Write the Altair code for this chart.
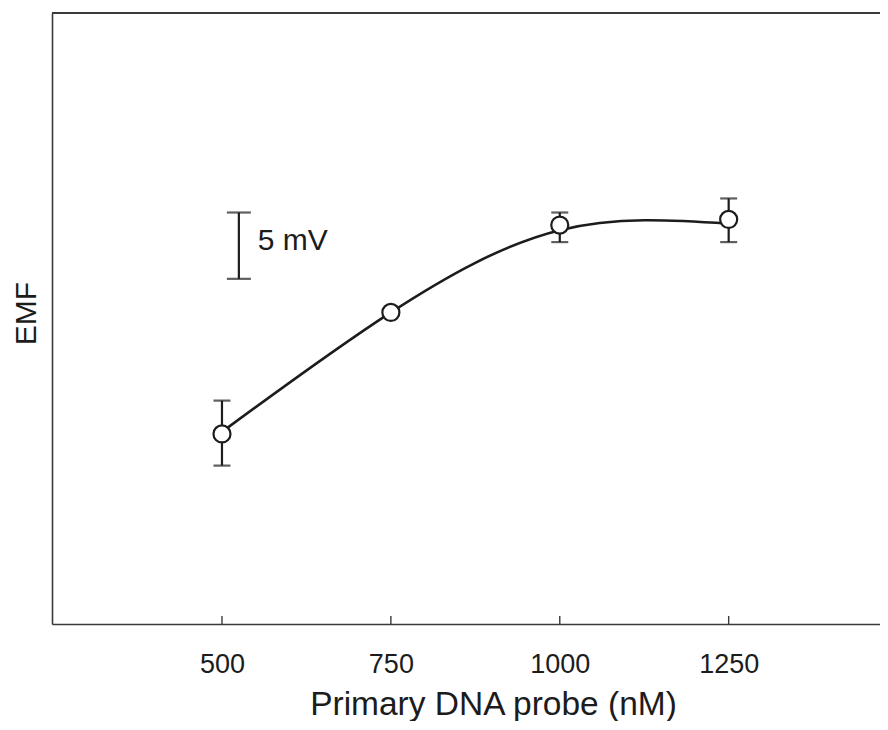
import altair as alt
import pandas as pd

# Measured points (EMF in mV, relative offset; axis shows no numbers)
conc = [500, 750, 1000, 1250]
emf = [14.33, 23.49, 30.07, 30.50]
emf_lo = [11.94, 23.25, 28.79, 28.79]
emf_hi = [16.84, 23.75, 31.02, 32.08]

fit_x = [500, 750, 1000, 1250]
fit_y = [14.48, 23.49, 29.69, 30.18]

# 5 mV scale bar
bar_x = [525]
bar_lo = [26.02]
bar_hi = [31.02]
bar_label = ["5 mV"]
label_x = [553]
label_y = [28.84]

tick_values = [500, 750, 1000, 1250]

W, H = 828, 611
FONT = "Liberation Sans"
INK = "#1c1c1c"
AX = "#3a3a3a"

xscale = alt.Scale(domain=[248.4, 1474], nice=False, zero=False)
yscale = alt.Scale(domain=[0, 46.06], nice=False, zero=False)

X_AXIS = alt.Axis(
    values=tick_values, format="d", ticks=False, tickSize=0, grid=False,
    labelFontSize=27, labelFont=FONT, labelColor=INK, labelPadding=27,
    domainColor=AX, domainWidth=1.6,
    title="Primary DNA probe (nM)", titleFont=FONT, titleFontSize=33.5,
    titleFontWeight="normal", titleColor=INK, titleX=441, titleY=90,
    titleAlign="center", titleBaseline="alphabetic")
Y_AXIS = alt.Axis(
    labels=False, ticks=False, tickSize=0, grid=False,
    domainColor=AX, domainWidth=1.6,
    title="EMF", titleFont=FONT, titleFontSize=30, titleFontWeight="normal",
    titleColor=INK, titleX=-17, titleY=300, titleAngle=270,
    titleAlign="center", titleBaseline="alphabetic")

pts = pd.DataFrame({"conc": conc, "emf": emf, "lo": emf_lo, "hi": emf_hi})
fit = pd.DataFrame({"x": fit_x, "y": fit_y})
bar = pd.DataFrame({"x": bar_x, "lo": bar_lo, "hi": bar_hi})
lab = pd.DataFrame({"x": label_x, "y": label_y, "t": bar_label})
ticks = pd.DataFrame({"v": tick_values})

curve = alt.Chart(fit).mark_line(interpolate="natural", color=INK, strokeWidth=2.6).encode(
    x=alt.X("x:Q", scale=xscale, axis=X_AXIS),
    y=alt.Y("y:Q", scale=yscale, axis=Y_AXIS),
)

errs = alt.Chart(pts).mark_errorbar(
    ticks={"size": 17, "thickness": 2.2, "color": INK}, thickness=2.2, color=INK
).encode(
    x=alt.X("conc:Q", scale=xscale, axis=X_AXIS),
    y=alt.Y("lo:Q", scale=yscale, axis=Y_AXIS),
    y2="hi:Q",
)

circles = alt.Chart(pts).mark_point(
    shape="circle", filled=False, fill="white", fillOpacity=1, stroke=INK,
    strokeWidth=2.2, size=290, opacity=1
).encode(
    x=alt.X("conc:Q", scale=xscale, axis=X_AXIS),
    y=alt.Y("emf:Q", scale=yscale, axis=Y_AXIS),
)

scalebar = alt.Chart(bar).mark_errorbar(
    ticks={"size": 24, "thickness": 2.2, "color": INK}, thickness=2.2, color=INK
).encode(
    x=alt.X("x:Q", scale=xscale, axis=X_AXIS),
    y=alt.Y("lo:Q", scale=yscale, axis=Y_AXIS),
    y2="hi:Q",
)

scaletext = alt.Chart(lab).mark_text(
    align="left", baseline="middle", font=FONT, fontSize=30, color=INK
).encode(
    x=alt.X("x:Q", scale=xscale, axis=X_AXIS),
    y=alt.Y("y:Q", scale=yscale, axis=Y_AXIS),
    text="t:N",
)

xticks = alt.Chart(ticks).mark_rule(color=AX, strokeWidth=1.4).encode(
    x=alt.X("v:Q", scale=xscale, axis=X_AXIS),
    y=alt.value(H - 8),
    y2=alt.value(H),
)

topline = alt.Chart(ticks).mark_rule(color=AX, strokeWidth=1.6).encode(
    x=alt.value(0), x2=alt.value(W), y=alt.value(0)
)

chart = alt.layer(curve, xticks, topline, errs, scalebar, scaletext, circles).properties(
    width=W, height=H,
    autosize=alt.AutoSizeParams(type="none"),
    padding={"left": 44, "top": 5, "right": 0, "bottom": 97},
    background="white",
).configure_view(stroke=None)

chart.save("out.html", embed_options={"renderer": "svg", "actions": False})
